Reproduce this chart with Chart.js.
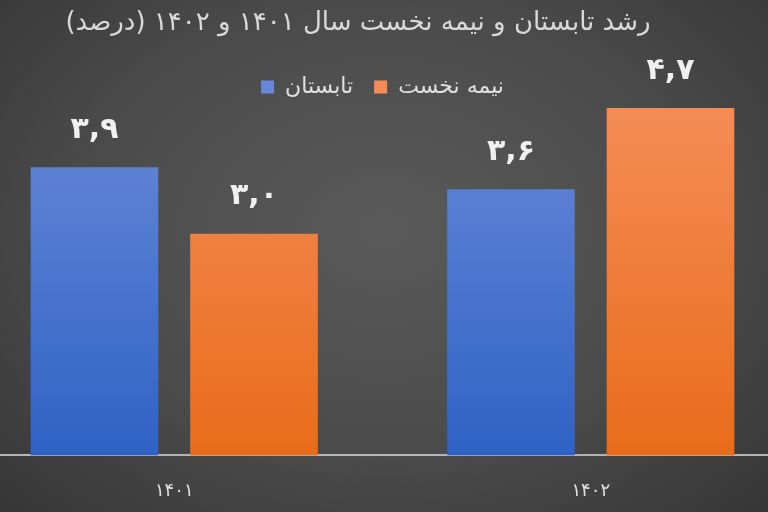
<!DOCTYPE html>
<html>
<head>
<meta charset="utf-8">
<script src="https://cdn.jsdelivr.net/npm/chart.js@4/dist/chart.umd.min.js"></script>
<style>
  html, body { margin: 0; padding: 0; width: 768px; height: 512px; overflow: hidden; }
  body { background: radial-gradient(ellipse at 50% 45%, #5a5a5a 0%, #4b4b4b 55%, #363636 100%); position: relative; }
  #wrap { position: absolute; left: -34px; top: 0; width: 833px; height: 541px; }
</style>
</head>
<body>
<div id="wrap"><canvas id="growthChart" width="833" height="541"></canvas></div>
<script>
const titleText = 'رشد تابستان و نیمه نخست سال ۱۴۰۱ و ۱۴۰۲ (درصد)';
const years = ['۱۴۰۱', '۱۴۰۲'];
const seriesNames = ['تابستان', 'نیمه نخست'];
const summerGrowth = [3.9, 3.6];
const firstHalfGrowth = [3.0, 4.7];

const fa = (v) => v.toFixed(1).replace('.', ',').replace(/\d/g, d => '۰۱۲۳۴۵۶۷۸۹'[d]);
const font = 'DejaVu Sans, Noto Sans, sans-serif';

function grad(top, bottom, flat) {
  return (c) => {
    const area = c.chart.chartArea;
    if (!area) return flat;
    const g = c.chart.ctx.createLinearGradient(0, area.top, 0, area.bottom);
    g.addColorStop(0, top);
    g.addColorStop(1, bottom);
    return g;
  };
}

// title drawn slightly left of centre, like the source
const titlePlugin = {
  id: 'rtlTitle',
  afterDraw(chart) {
    const ctx = chart.ctx;
    ctx.save();
    ctx.font = '26px ' + font;
    ctx.fillStyle = '#d9d9d9';
    ctx.direction = 'rtl';
    ctx.textAlign = 'center';
    ctx.textBaseline = 'middle';
    ctx.fillText(titleText, 392, 23);
    ctx.restore();
  }
};

const valueLabels = {
  id: 'valueLabels',
  afterDatasetsDraw(chart) {
    const ctx = chart.ctx;
    ctx.save();
    ctx.font = 'bold 30px ' + font;
    ctx.fillStyle = '#f0f0f0';
    ctx.textAlign = 'center';
    ctx.textBaseline = 'middle';
    chart.data.datasets.forEach((ds, i) => {
      chart.getDatasetMeta(i).data.forEach((bar, j) => {
        ctx.fillText(fa(ds.data[j]), bar.x, bar.y - 37);
      });
    });
    ctx.restore();
  }
};

new Chart(document.getElementById('growthChart'), {
  type: 'bar',
  data: {
    labels: years,
    datasets: [
      { label: seriesNames[0], data: summerGrowth,
        backgroundColor: grad('#6688d6', '#2f62c6', '#4a75cf') },
      { label: seriesNames[1], data: firstHalfGrowth,
        backgroundColor: grad('#f58c56', '#e86c1a', '#ee7a35') },
    ],
  },
  options: {
    responsive: false, animation: false,
    categoryPercentage: 0.766, barPercentage: 0.8,
    layout: { padding: { top: 55, bottom: 14, left: 0, right: 0 } },
    plugins: {
      title: { display: false },
      tooltip: { enabled: false },
      legend: {
        labels: { color: '#e0e0e0', font: { family: font, size: 22 }, boxWidth: 13, boxHeight: 13, padding: 21 },
      },
    },
    scales: {
      x: {
        grid: { display: false, drawTicks: false },
        border: { display: true, color: '#b4b4b4', width: 2 },
        ticks: { color: '#e0e0e0', font: { family: font, size: 18 }, padding: 25 },
      },
      y: { display: false, min: 0, max: 4.7 },
    },
  },
  plugins: [titlePlugin, valueLabels],
});
</script>
</body>
</html>
